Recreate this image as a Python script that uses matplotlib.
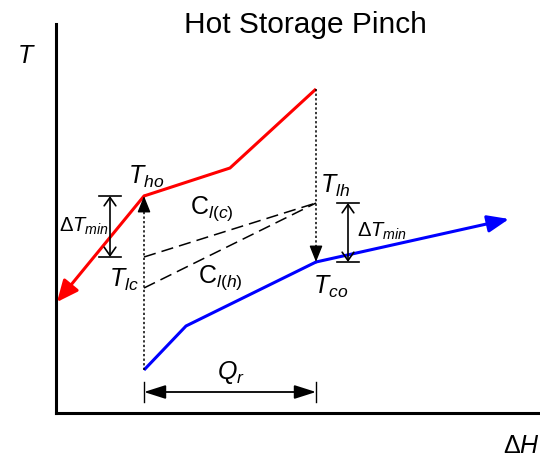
import matplotlib
matplotlib.use("Agg")
import matplotlib.pyplot as plt
from matplotlib.patches import FancyArrowPatch

plt.rcParams['font.family'] = ['Liberation Sans', 'DejaVu Sans']
plt.rcParams['mathtext.fontset'] = 'custom'
plt.rcParams['mathtext.rm'] = 'Liberation Sans'
plt.rcParams['mathtext.it'] = 'Liberation Sans:italic'

# Hot composite curve (enthalpy, temperature), last point is the arrow tip
hot_h = [260, 174, 88, 1]
hot_t = [324, 245, 217, 111]
# Cold composite curve
cold_h = [88, 130, 260, 453]
cold_t = [43, 87, 151, 194]
# Storage lines
store_h = [88, 260]
store_tc = [156, 210]
store_th = [125, 210]
# Dimension markers
dtmin_left = (54, 156, 217)
dtmin_right = (292, 151, 210)
qr = (21, 88, 260)

fig = plt.figure(figsize=(5.4, 4.58), dpi=100)
ax = fig.add_axes([56 / 540, 45 / 458, 484 / 540, 389 / 458])
ax.set_xlim(0, 484)
ax.set_ylim(0, 389)
for s in ['top', 'right']:
    ax.spines[s].set_visible(False)
for s in ['left', 'bottom']:
    ax.spines[s].set_linewidth(2.2)
ax.set_xticks([])
ax.set_yticks([])


def arrow(p0, p1, color, lw, style, ms, ls='-'):
    a = FancyArrowPatch(p0, p1, arrowstyle=style, color=color, lw=lw,
                        mutation_scale=ms, shrinkA=0, shrinkB=0,
                        linestyle=ls, clip_on=False, zorder=3)
    ax.add_patch(a)


# hot curve
ax.plot(hot_h[:-1], hot_t[:-1], color='red', lw=2.2, solid_capstyle='butt',
        solid_joinstyle='miter')
arrow((hot_h[-2], hot_t[-2]), (hot_h[-1], hot_t[-1]), 'red', 2.2,
      '-|>,head_length=1.0,head_width=0.45', 13)
# cold curve
ax.plot(cold_h[:-1], cold_t[:-1], color='blue', lw=2.2, solid_capstyle='butt',
        solid_joinstyle='miter')
arrow((cold_h[-2], cold_t[-2]), (cold_h[-1], cold_t[-1]), 'blue', 2.2,
      '-|>,head_length=1.0,head_width=0.4', 13)

# storage lines
ax.plot(store_h, store_tc, color='black', lw=1.1, ls=(0, (8, 4)))
ax.plot(store_h, store_th, color='black', lw=1.1, ls=(0, (8, 4)))

# dotted verticals
ax.plot([cold_h[0], cold_h[0]], [cold_t[0], hot_t[2] - 10], color='black',
        lw=1.1, ls=(0, (1.5, 1.5)))
arrow((cold_h[0], hot_t[2] - 12), (cold_h[0], hot_t[2]), 'black', 1.0,
      '-|>,head_length=1.0,head_width=0.4', 10)
ax.plot([hot_h[0], hot_h[0]], [hot_t[0], cold_t[2] + 10], color='black',
        lw=1.1, ls=(0, (1.5, 1.5)))
arrow((hot_h[0], cold_t[2] + 12), (hot_h[0], cold_t[2]), 'black', 1.0,
      '-|>,head_length=1.0,head_width=0.4', 10)

# delta T min markers
for x, lo, hi in [dtmin_left, dtmin_right]:
    arrow((x, lo), (x, hi), 'black', 1.2, '<->,head_length=0.5,head_width=0.35', 12)
    ax.plot([x - 11, x + 11], [lo, lo], color='black', lw=1.2)
    ax.plot([x - 11, x + 11], [hi, hi], color='black', lw=1.2)

# Qr marker
y, x0, x1 = qr
arrow((x0, y), (x1, y), 'black', 1.3, '<|-|>,head_length=1.1,head_width=0.35', 12)
ax.plot([x0, x0], [y - 10, y + 10], color='black', lw=1.0)
ax.plot([x1, x1], [y - 10, y + 10], color='black', lw=1.0)

kw = dict(ha='center', va='center', clip_on=False)
ax.text(249, 388, 'Hot Storage Pinch', fontsize=21.5, **kw)
ax.text(-30, 357, '$T$', fontsize=18, **kw)
ax.text(447, -33, r'$\Delta H$', fontsize=18, ha='left', va='center', clip_on=False)
ax.text(90, 236, '$T_{ho}$', fontsize=18, **kw)
ax.text(156, 204, r'$\mathrm{C}_{l(c)}$', fontsize=18, **kw)
ax.text(68, 133, '$T_{lc}$', fontsize=18, **kw)
ax.text(164, 135, r'$\mathrm{C}_{l(h)}$', fontsize=18, **kw)
ax.text(279, 227, '$T_{lh}$', fontsize=18, **kw)
ax.text(275, 126, '$T_{co}$', fontsize=18, **kw)
ax.text(28, 187, r'$\Delta T_{min}$', fontsize=14.5, **kw)
ax.text(326, 182, r'$\Delta T_{min}$', fontsize=14.5, **kw)
ax.text(175, 41, '$Q_r$', fontsize=18, **kw)

fig.savefig('out.png', dpi=100)
